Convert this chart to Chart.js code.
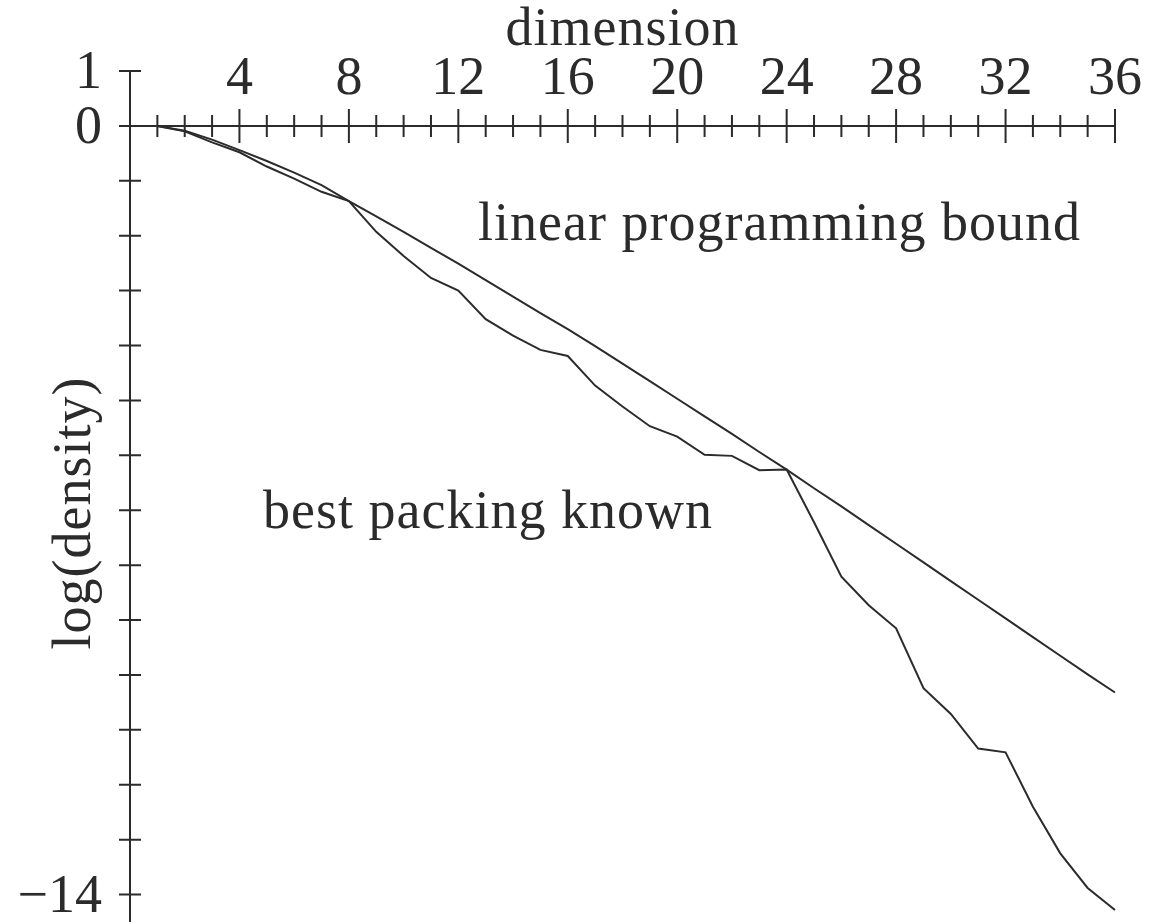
<!DOCTYPE html>
<html>
<head>
<meta charset="utf-8">
<script src="https://cdn.jsdelivr.net/npm/chart.js@4.4.1/dist/chart.umd.min.js"></script>
<style>
  html, body { margin: 0; padding: 0; background: #fff; }
  #wrap { width: 1153px; height: 922px; position: relative; }
</style>
</head>
<body>
<div id="wrap"><canvas id="chart"></canvas></div>
<script>
// dimension n = 1..36
const dims = [1, 2, 3, 4, 5, 6, 7, 8, 9, 10, 11, 12, 13, 14, 15, 16, 17, 18,
  19, 20, 21, 22, 23, 24, 25, 26, 27, 28, 29, 30, 31, 32, 33, 34, 35, 36];

// log(density)
const lpBound = [0, -0.09, -0.25, -0.44, -0.64, -0.85, -1.08, -1.37, -1.65, -1.93,
  -2.22, -2.51, -2.81, -3.11, -3.41, -3.70, -4.01, -4.33, -4.65, -4.97,
  -5.29, -5.61, -5.94, -6.26, -6.60, -6.93, -7.27, -7.61, -7.95, -8.29,
  -8.63, -8.97, -9.31, -9.65, -9.99, -10.32];

const bestKnown = [0, -0.10, -0.30, -0.48, -0.74, -0.96, -1.20, -1.37, -1.93, -2.37,
  -2.77, -3.00, -3.52, -3.82, -4.08, -4.19, -4.73, -5.11, -5.47, -5.66,
  -5.99, -6.01, -6.27, -6.26, -7.22, -8.21, -8.73, -9.15, -10.24, -10.71,
  -11.34, -11.41, -12.40, -13.25, -13.88, -14.28];

const xTickLabels = [4, 8, 12, 16, 20, 24, 28, 32, 36];
const yTickLabels = [1, 0, -14];

const ink = "#2b2b2b";
const font = '54px "Liberation Serif", "DejaVu Serif", serif';

const axesPlugin = {
  id: "axes",
  afterDraw(chart) {
    const { ctx, chartArea } = chart;
    const x = chart.scales.x, y = chart.scales.y;
    const x0 = x.getPixelForValue(0);
    const y0 = y.getPixelForValue(0);
    ctx.save();
    ctx.strokeStyle = ink;
    ctx.lineWidth = 2;
    ctx.beginPath();
    ctx.moveTo(x0, y.getPixelForValue(1));
    ctx.lineTo(x0, chartArea.bottom);
    ctx.moveTo(x0, y0);
    ctx.lineTo(x.getPixelForValue(36), y0);
    for (let d = 1; d <= 36; d++) {
      const px = x.getPixelForValue(d);
      const h = d % 4 === 0 ? 17 : 11;
      ctx.moveTo(px, y0 - h);
      ctx.lineTo(px, y0 + h);
    }
    for (let v = 1; v >= -14; v--) {
      const py = y.getPixelForValue(v);
      ctx.moveTo(x0 - 11, py);
      ctx.lineTo(x0 + 11, py);
    }
    ctx.stroke();

    ctx.fillStyle = ink;
    ctx.font = font;
    ctx.textBaseline = "alphabetic";

    ctx.textAlign = "center";
    xTickLabels.forEach(v => ctx.fillText(String(v), x.getPixelForValue(v), y0 - 32));

    ctx.textAlign = "right";
    yTickLabels.forEach(v => {
      const txt = v < 0 ? "\u2212" + Math.abs(v) : String(v);
      ctx.fillText(txt, x0 - 28, y.getPixelForValue(v) + 17);
    });

    ctx.letterSpacing = "1px";
    ctx.textAlign = "center";
    ctx.fillText("dimension", (x0 + x.getPixelForValue(36)) / 2, 45);

    ctx.textAlign = "left";
    ctx.fillText("linear programming bound", x.getPixelForValue(12.72), y.getPixelForValue(-2.07));
    ctx.fillText("best packing known", x.getPixelForValue(4.86), y.getPixelForValue(-7.33));

    ctx.translate(90, 513);
    ctx.rotate(-Math.PI / 2);
    ctx.textAlign = "center";
    ctx.fillText("log(density)", 0, 0);
    ctx.restore();
  }
};

const toPoints = vals => dims.map((d, i) => ({ x: d, y: vals[i] }));

new Chart(document.getElementById("chart").getContext("2d"), {
  type: "line",
  data: {
    datasets: [
      { label: "linear programming bound", data: toPoints(lpBound) },
      { label: "best packing known", data: toPoints(bestKnown) }
    ].map(ds => ({
      ...ds,
      borderColor: ink,
      borderWidth: 2,
      pointRadius: 0,
      tension: 0,
      fill: false,
      clip: false
    }))
  },
  options: {
    responsive: true,
    maintainAspectRatio: false,
    animation: false,
    layout: { padding: { left: 130, right: 38, top: 71, bottom: 0 } },
    plugins: { legend: { display: false }, tooltip: { enabled: false } },
    scales: {
      x: { type: "linear", min: 0, max: 36, display: false },
      y: { type: "linear", min: -14.5, max: 1, display: false }
    }
  },
  plugins: [axesPlugin]
});
</script>
</body>
</html>
